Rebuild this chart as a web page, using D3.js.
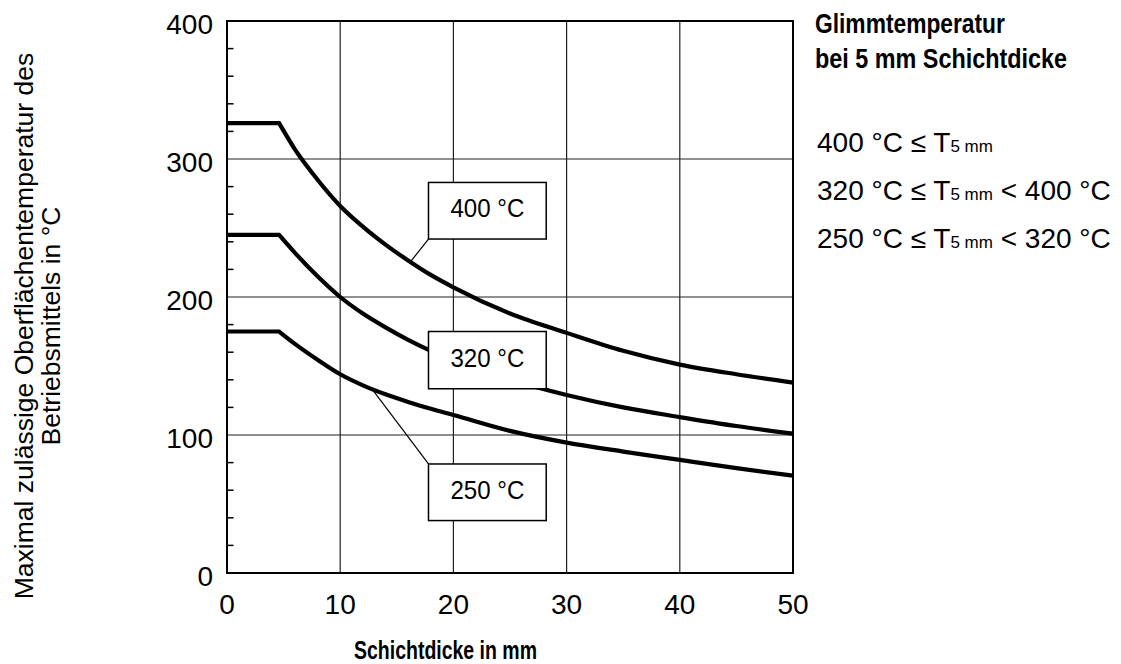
<!DOCTYPE html>
<html>
<head>
<meta charset="utf-8">
<script src="https://cdn.jsdelivr.net/npm/d3@7/dist/d3.min.js"></script>
<style>
  html, body { margin: 0; padding: 0; background: #fff; }
  svg { display: block; font-family: "Liberation Sans", Arial, sans-serif; }
</style>
</head>
<body>
<svg id="chart" width="1121" height="664"></svg>
<script>
// ---------------- data ----------------
const xTicks = [0, 10, 20, 30, 40, 50];
const yTicks = [0, 100, 200, 300, 400];
const yMinorTicks = [20, 40, 60, 80, 120, 140, 160, 180, 220, 240, 260, 280, 320, 340, 360, 380];

const s400X = [0, 4.6, 6, 8, 10, 12, 14, 16, 18, 20, 25, 30, 35, 40, 45, 50];
const s400Y = [326, 326, 307, 285, 266, 251, 238, 226.5, 216, 207, 188, 174, 161, 151, 144, 138];

const s320X = [0, 4.6, 6, 8, 10, 12, 14, 16, 18, 20, 25, 30, 35, 40, 45, 50];
const s320Y = [245, 245, 232, 215, 200, 188, 178, 169, 161, 154, 140, 129, 120, 113, 106.5, 101];

const s250X = [0, 4.6, 6, 8, 10, 12, 14, 16, 18, 20, 25, 30, 35, 40, 45, 50];
const s250Y = [175, 175, 166, 154.5, 144, 136, 129.5, 124, 119, 114.5, 103, 94.5, 88, 82, 76, 70.5];

const curveLabels = ["400 °C", "320 °C", "250 °C"];
const legendTitle = ["Glimmtemperatur", "bei 5 mm Schichtdicke"];
const legendLow = ["400 °C", "320 °C", "250 °C"];
const legendHigh = [null, "400 °C", "320 °C"];
const xTitle = "Schichtdicke in mm";
const yTitle = ["Maximal zulässige Oberflächentemperatur des", "Betriebsmittels in °C"];

// ---------------- setup ----------------
const svg = d3.select("#chart");
const x = d3.scaleLinear().domain([0, 50]).range([227, 793]);
const y = d3.scaleLinear().domain([0, 400]).range([573, 21]);

const series = [
  s400X.map((v, i) => [v, s400Y[i]]),
  s320X.map((v, i) => [v, s320Y[i]]),
  s250X.map((v, i) => [v, s250Y[i]])
];

// helper: text, optionally horizontally condensed to a target width (or by factor)
function condText(parent, tx, ty, str, size, opt) {
  opt = opt || {};
  const g = parent.append("g");
  const t = g.append("text")
    .attr("x", 0).attr("y", 0)
    .attr("font-size", size)
    .attr("font-weight", opt.weight || "normal")
    .attr("text-anchor", opt.anchor || "start")
    .attr("fill", "#000")
    .text(str);
  let sx = opt.sx || 1;
  if (opt.width) {
    const w = t.node().getComputedTextLength();
    sx = opt.width / w;
  }
  g.attr("transform", `translate(${tx},${ty})` + (opt.rotate ? ` rotate(${opt.rotate})` : "") + ` scale(${sx},1)`);
  return g;
}

// ---------------- grid ----------------
const grid = svg.append("g");
grid.selectAll("line.gx").data(xTicks.slice(1, -1)).join("line")
  .attr("x1", d => x(d)).attr("x2", d => x(d))
  .attr("y1", y(0)).attr("y2", y(400))
  .attr("stroke", "#222").attr("stroke-width", 1.2);
grid.selectAll("line.gy").data(yTicks.slice(1, -1)).join("line")
  .attr("x1", x(0)).attr("x2", x(50))
  .attr("y1", d => y(d)).attr("y2", d => y(d))
  .attr("stroke", "#222").attr("stroke-width", 1.2);

// ---------------- curves ----------------
const flatLine = d3.line().x(d => x(d[0])).y(d => y(d[1]));
const smoothLine = d3.line().x(d => x(d[0])).y(d => y(d[1])).curve(d3.curveMonotoneX);
const curves = svg.append("g");
series.forEach(s => {
  curves.append("path")
    .attr("d", flatLine(s.slice(0, 2)) + smoothLine(s.slice(1)).replace(/^M/, "L"))
    .attr("fill", "none").attr("stroke", "#000").attr("stroke-width", 4.2)
    .attr("stroke-linejoin", "miter");
});

// ---------------- label boxes ----------------
const boxLeft = 17.8, boxRight = 28.2;
const boxTops = [283, 175, 79];
const boxBottoms = [242, 133.5, 38];
function valueAt(s, xv) {
  const xs = s.map(d => d[0]);
  const i = d3.bisectLeft(xs, xv);
  if (xs[i] === xv) return s[i][1];
  const a = s[i - 1], b = s[i];
  return a[1] + (b[1] - a[1]) * (xv - a[0]) / (b[0] - a[0]);
}
const leaderX = [16.2, null, 12.8];
const leaderCorner = [boxBottoms[0], null, boxTops[2]];
const ann = svg.append("g");
leaderX.forEach((lx, i) => {
  if (lx === null) return;
  ann.append("line")
    .attr("x1", x(boxLeft)).attr("y1", y(leaderCorner[i]))
    .attr("x2", x(lx)).attr("y2", y(valueAt(series[i], lx)))
    .attr("stroke", "#000").attr("stroke-width", 1.2);
});
curveLabels.forEach((lab, i) => {
  ann.append("rect")
    .attr("x", x(boxLeft)).attr("y", y(boxTops[i]))
    .attr("width", x(boxRight) - x(boxLeft)).attr("height", y(boxBottoms[i]) - y(boxTops[i]))
    .attr("fill", "#fff").attr("stroke", "#000").attr("stroke-width", 1.5);
  const cx = (x(boxLeft) + x(boxRight)) / 2;
  const cy = (y(boxTops[i]) + y(boxBottoms[i])) / 2;
  condText(ann, cx, cy + 6.5, lab, 25.5, { anchor: "middle", width: 74 });
});

// ---------------- frame & ticks ----------------
const frame = svg.append("g");
frame.append("rect")
  .attr("x", x(0)).attr("y", y(400))
  .attr("width", x(50) - x(0)).attr("height", y(0) - y(400))
  .attr("fill", "none").attr("stroke", "#000").attr("stroke-width", 2);
frame.selectAll("line.minor").data(yMinorTicks).join("line")
  .attr("x1", x(0)).attr("x2", x(0) + 6.5)
  .attr("y1", d => y(d)).attr("y2", d => y(d))
  .attr("stroke", "#000").attr("stroke-width", 1.5);

// tick labels
xTicks.forEach(t => condText(svg, x(t), 614, String(t), 28, { anchor: "middle" }));
yTicks.forEach(t => condText(svg, 213, y(t) + 13, String(t), 28, { anchor: "end" }));

// axis titles
condText(svg, 445.5, 659, xTitle, 25, { anchor: "middle", weight: "bold", width: 183 });
condText(svg, 33, 326, yTitle[0], 26.5, { anchor: "middle", rotate: -90 });
condText(svg, 60, 326, yTitle[1], 26.5, { anchor: "middle", rotate: -90 });

// ---------------- legend (right side) ----------------
condText(svg, 815, 33, legendTitle[0], 27, { weight: "bold", width: 190 });
condText(svg, 815, 68, legendTitle[1], 27, { weight: "bold", width: 252 });

const legendBase = [152, 200, 248];
legendLow.forEach((lo, i) => {
  const t = svg.append("text")
    .attr("x", 817).attr("y", legendBase[i])
    .attr("font-size", 28).attr("fill", "#000");
  t.append("tspan").text(lo + " \u2264 T");
  t.append("tspan").attr("font-size", 17).text("5 mm");
  if (legendHigh[i]) t.append("tspan").text(" < " + legendHigh[i]);
});
</script>
</body>
</html>
